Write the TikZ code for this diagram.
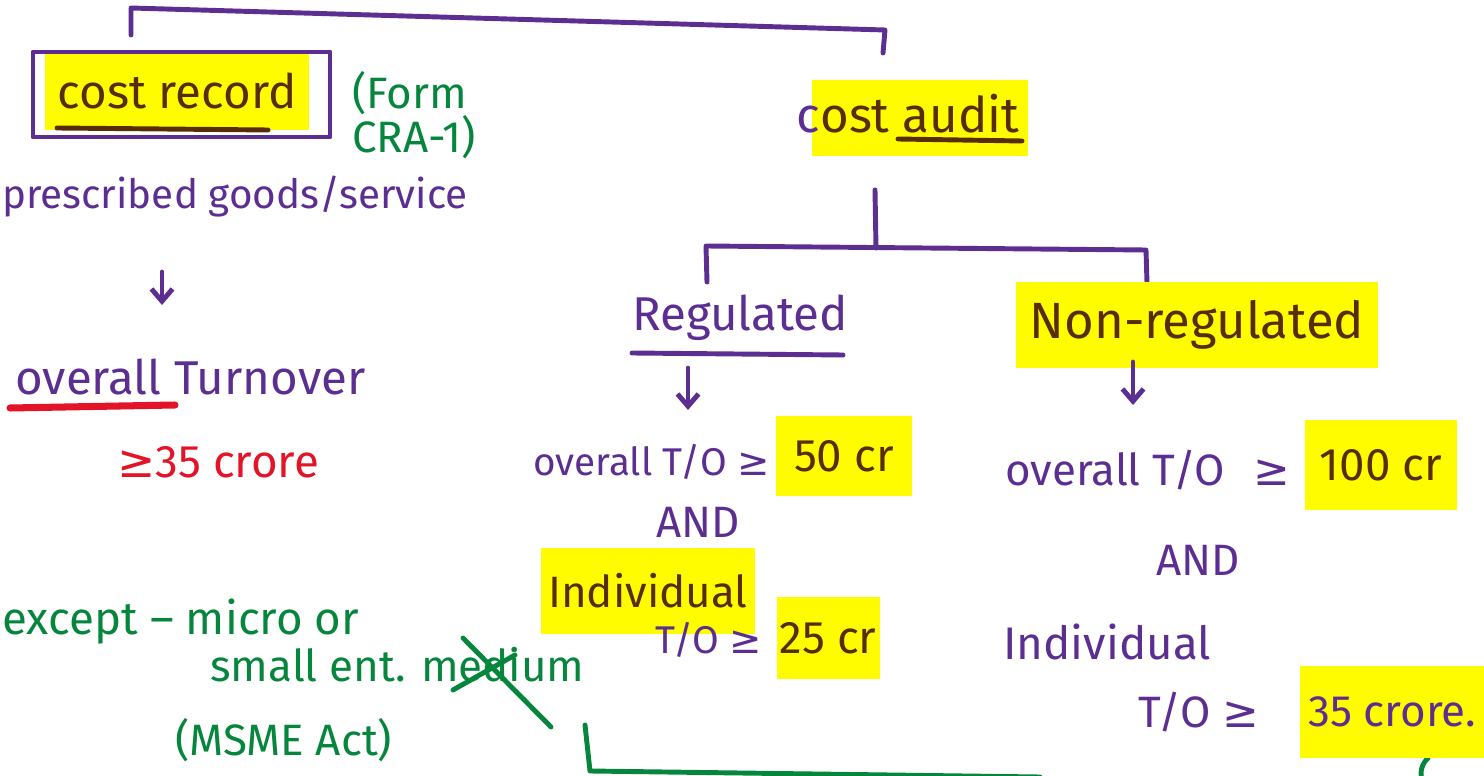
\documentclass[tikz,border=0pt]{standalone}
\usepackage{fontspec}
\setmainfont{Fira Sans}
\newfontfamily\symbfont{DejaVu Sans}
\usetikzlibrary{arrows.meta, positioning}
\definecolor{penpurple}{RGB}{92,46,145}
\definecolor{penbrown}{RGB}{88,44,4}
\definecolor{pengreen}{RGB}{6,134,60}
\definecolor{penred}{RGB}{228,20,40}
\definecolor{hiyellow}{RGB}{255,252,0}
\newcommand{\atleast}{{\symbfont ≥}}
\newcommand{\hwsize}[1]{\fontsize{#1}{#1}\selectfont}
\tikzset{
  ink/.style={line width=2.8pt, line cap=round, line join=round},
  hl/.style={fill=hiyellow, inner sep=0pt},
  say/.style={inner sep=0pt, font=\hwsize{24}},
  down/.style={ink, penpurple, -{Straight Barb[length=7pt, width=12pt]}},
}

\begin{document}
\begin{tikzpicture}[x=0.02cm, y=-0.02cm]
    \useasboundingbox (0,0) rectangle (1484,776);

    % Top bracket - joins both branches
    \coordinate (tl) at (131,35);
    \coordinate (tlc) at (131,8);
    \coordinate (trc) at (885,30);
    \coordinate (tr) at (883,53);
    \draw[ink, penpurple] (tl) -- (tlc) -- (trc) -- (tr);

    % Cost record - boxed
    \node (rec) at (177,91) [hl, minimum width=5.3cm, minimum height=1.56cm, text=penbrown, font=\hwsize{27}] {cost record};
    \draw[ink, penpurple] (33,52) rectangle (330,137);
    \draw[ink, penbrown] (57,128) -- (268,130);
    \node (form) at (414,115) [say, align=left, text=pengreen, font=\hwsize{25}] {(Form\\CRA-1)};

    \node (presc) at (2,197) [say, anchor=west, text=penpurple, font=\hwsize{23}] {prescribed goods/service};
    \coordinate (a1) at (162,272);
    \coordinate (a1e) at (162,305);
    \draw[down] (a1) -- (a1e);

    \node (turn) at (15,377) [say, anchor=west, text=penpurple, font=\hwsize{27}] {overall Turnover};
    \draw[ink, penred, line width=4pt] (10,408) -- (175,405);
    \node (cr35) at (218,462) [say, text=penred, font=\hwsize{26}] {\atleast35 crore};

    % Exception - MSME
    \node (exc) at (2,622) [say, anchor=west, text=pengreen, font=\hwsize{26}] {except – micro or};
    \node (small) at (210,665) [say, anchor=west, text=pengreen, font=\hwsize{25}] {small ent. medium};
    \node (msme) at (175,740) [say, anchor=west, text=pengreen, font=\hwsize{25}] {(MSME Act)};
    \draw[ink, pengreen] (463,638) -- (551,727);
    \draw[ink, pengreen] (453,690) -- (515,655);

    % Green bracket at the bottom
    \draw[ink, pengreen] (585,725) -- (590,771) -- (1040,777);
    \draw[ink, pengreen] (1428,758) to[bend right] (1422,780);

    % Cost audit
    \node (audithl) at (920,118) [hl, minimum width=4.32cm, minimum height=1.54cm] {};
    \node (audit) at (908,114) [say, text=penbrown, font=\hwsize{28}] {\textcolor{penpurple}{c}ost audit};
    \draw[ink, penbrown] (898,139) -- (1022,141);

    \coordinate (stem) at (875,190);
    \coordinate (fork) at (876,248);
    \coordinate (fl) at (706,246);
    \coordinate (fld) at (707,282);
    \coordinate (fr) at (1146,250);
    \coordinate (frd) at (1147,283);
    \draw[ink, penpurple] (stem) -- (fork);
    \draw[ink, penpurple] (fld) -- (fl) -- (fr) -- (frd);

    % Regulated
    \node (reg) at (740,318) [say, text=penpurple, font=\hwsize{27}] {Regulated};
    \draw[ink, penpurple] (632,353) -- (843,355);
    \coordinate (a2) at (688,368);
    \coordinate (a2e) at (688,410);
    \draw[down] (a2) -- (a2e);

    \node (cr50) at (844,456) [hl, minimum width=2.74cm, minimum height=1.62cm, text=penbrown, font=\hwsize{26}] {50 cr};
    \node (ov1) at (533,462) [say, anchor=west, text=penpurple, font=\hwsize{22}] {overall T/O \atleast};
    \node (and1) at (698,522) [say, text=penpurple, font=\hwsize{25}] {AND};
    \draw[ink, penbrown] (673,555) -- (727,552);
    \node (ind1) at (648,591) [hl, minimum width=4.3cm, minimum height=1.74cm, text=penbrown, font=\hwsize{25}] {Individual};
    \node (cr25) at (828,638) [hl, minimum width=2.06cm, minimum height=1.66cm, text=penbrown, font=\hwsize{26}] {25 cr};
    \node (to1) at (655,640) [say, anchor=west, text=penpurple, font=\hwsize{22}] {T/O \atleast};

    % Non-regulated
    \node (nonreg) at (1197,325) [hl, minimum width=7.24cm, minimum height=1.72cm, text=penbrown, font=\hwsize{29}] {Non-regulated};
    \coordinate (a3) at (1133,362);
    \coordinate (a3e) at (1133,405);
    \draw[down] (a3) -- (a3e);

    \node (cr100) at (1381,465) [hl, minimum width=3.04cm, minimum height=1.8cm, text=penbrown, font=\hwsize{26}] {100 cr};
    \node (ov2) at (1005,470) [say, anchor=west, text=penpurple, font=\hwsize{25}] {overall T/O\hspace{16pt}\atleast};
    \node (and2) at (1198,560) [say, text=penpurple, font=\hwsize{25}] {AND};
    \node (ind2) at (1003,642) [say, anchor=west, text=penpurple, font=\hwsize{26}] {Individual};
    \node (cr35b) at (1392,712) [hl, minimum width=3.7cm, minimum height=1.84cm, text=penpurple, font=\hwsize{25}] {35 crore.};
    \node (to2) at (1138,712) [say, anchor=west, text=penpurple, font=\hwsize{25}] {T/O \atleast};

\end{tikzpicture}
\end{document}
